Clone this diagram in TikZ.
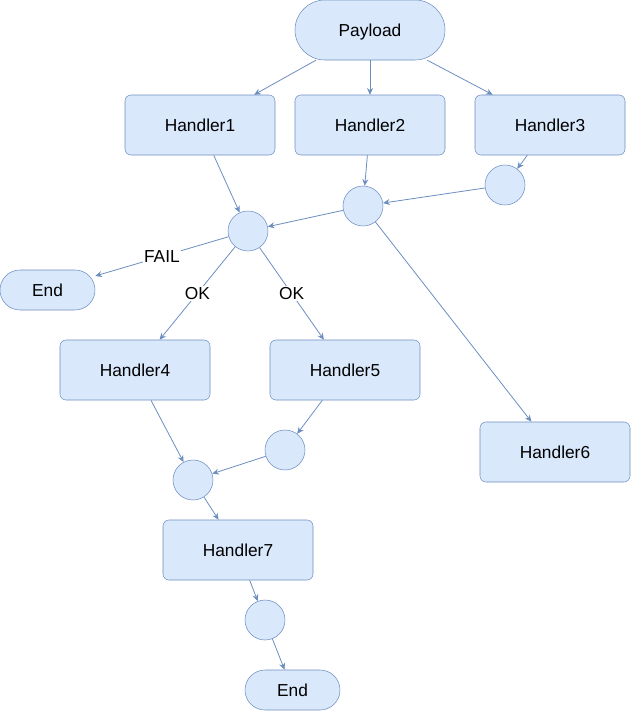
\documentclass[tikz,border=0pt]{standalone}
\usepackage{fontspec}
\setmainfont{Liberation Sans}
\usetikzlibrary{arrows.meta}
\definecolor{bfill}{HTML}{DAE8FC}
\definecolor{bline}{HTML}{6C8EBF}
\tikzset{
  txt/.style={font=\fontsize{13pt}{15pt}\selectfont},
  box/.style={draw=bline,fill=bfill,rounded corners=4.5pt,minimum width=112.5pt,minimum height=45pt,inner sep=0pt,txt},
  pill/.style={draw=bline,fill=bfill,rounded corners=#1,inner sep=0pt,txt,text height=9.4pt,text depth=0pt},
  dot/.style={draw=bline,fill=bfill,circle,minimum size=30pt,inner sep=0pt},
  conn/.style={draw=bline,line width=0.6pt,-{Stealth[length=5pt,width=4.5pt]}},
  lab/.style={fill=white,inner sep=1pt,txt,pos=0.5}
}
\begin{document}
\begin{tikzpicture}[x=0.75pt,y=-0.75pt]
\useasboundingbox (0,0) rectangle (631,711);
\node[pill=22.5pt,minimum width=112.5pt,minimum height=45pt] (pay) at (370,30) {Payload};
\node[box] (h1) at (200,125) {Handler1};
\node[box] (h2) at (370,125) {Handler2};
\node[box] (h3) at (550,125) {Handler3};
\node[dot] (c3) at (505,185) {};
\node[dot] (c2) at (363,206) {};
\node[dot] (c1) at (248,231) {};
\node[pill=15pt,minimum width=71.25pt,minimum height=30pt] (e1) at (47.5,290) {End};
\node[box] (h4) at (135,370) {Handler4};
\node[box] (h5) at (345,370) {Handler5};
\node[box] (h6) at (555,452) {Handler6};
\node[dot] (c5) at (285,450) {};
\node[dot] (c4) at (193,480) {};
\node[box] (h7) at (238,550) {Handler7};
\node[dot] (c6) at (265,620) {};
\node[pill=15pt,minimum width=71.25pt,minimum height=30pt] (e2) at (292.5,690) {End};
\draw[conn] (pay) -- (h1);
\draw[conn] (pay) -- (h2);
\draw[conn] (pay) -- (h3);
\draw[conn] (h1) -- (c1);
\draw[conn] (h2) -- (c2);
\draw[conn] (h3) -- (c3);
\draw[conn] (c3) -- (c2);
\draw[conn] (c2) -- (c1);
\draw[conn] (c1) -- node[lab] {FAIL} (e1);
\draw[conn] (c1) -- node[lab] {OK} (h4);
\draw[conn] (c1) -- node[lab] {OK} (h5);
\draw[conn] (c2) -- (h6);
\draw[conn] (h4) -- (c4);
\draw[conn] (h5) -- (c5);
\draw[conn] (c5) -- (c4);
\draw[conn] (c4) -- (h7);
\draw[conn] (h7) -- (c6);
\draw[conn] (c6) -- (e2);
\end{tikzpicture}
\end{document}
